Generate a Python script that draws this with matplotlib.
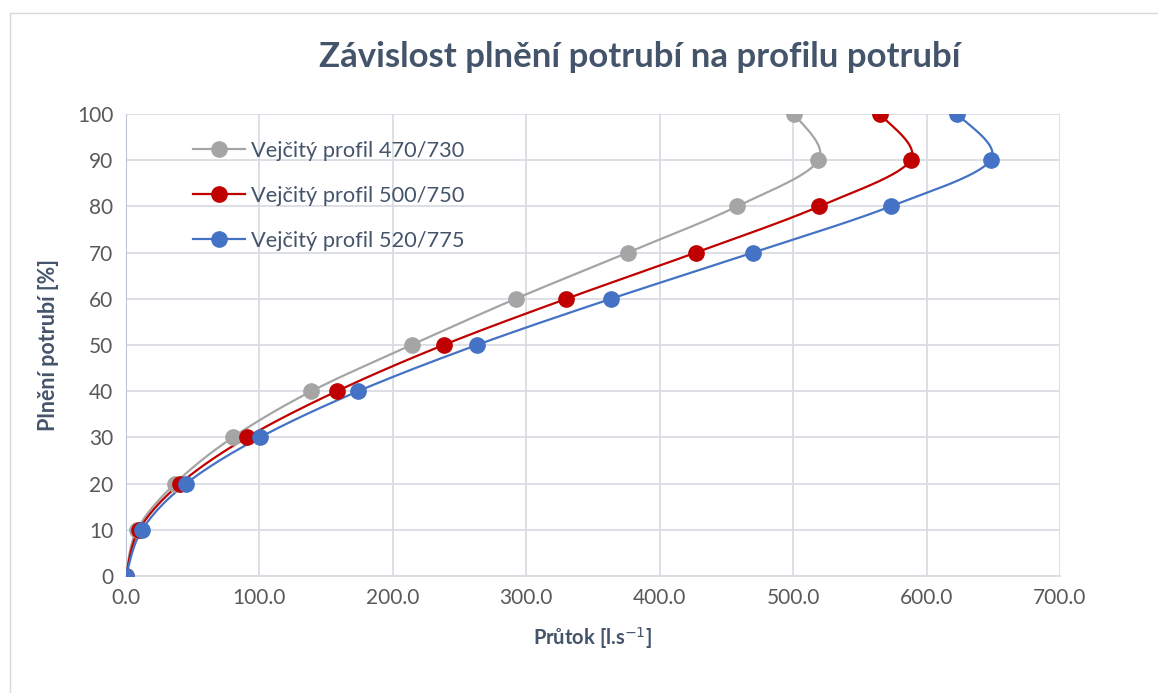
import numpy as np
import matplotlib

matplotlib.use("agg")
import matplotlib.pyplot as plt
from matplotlib.patches import Rectangle

# Values.
fill_pct = [0, 10, 20, 30, 40, 50, 60, 70, 80, 90, 100]
flow_470 = [0, 8.2, 36.7, 80.0, 139.0, 214.0, 292.0, 376.0, 458.0, 519.0, 500.8]
flow_500 = [0, 9.7, 40.5, 90.7, 158.0, 238.0, 330.0, 427.0, 519.5, 588.0, 565.0]
flow_520 = [0, 12.0, 45.0, 100.4, 174.0, 263.0, 363.5, 470.0, 573.0, 648.0, 623.0]

series_labels = ["Vejčitý profil 470/730", "Vejčitý profil 500/750", "Vejčitý profil 520/775"]
series_colors = ["#A5A5A5", "#C00000", "#4472C4"]

TEXT = "#44546A"
TICK = "#595959"
GRID = "#D9DCE3"

plt.rcParams["font.family"] = ["Lato", "DejaVu Sans"]


def smooth(x, y, n=30):
    """Excel-style smoothed line (Catmull-Rom through the points)."""
    p = np.column_stack([x, y]).astype(float)
    p = np.vstack([p[0], p, p[-1]])
    out = []
    t = np.linspace(0, 1, n)[:, None]
    for i in range(1, len(p) - 2):
        p0, p1, p2, p3 = p[i - 1], p[i], p[i + 1], p[i + 2]
        c1 = p1 + (p2 - p0) / 6
        c2 = p2 - (p3 - p1) / 6
        seg = ((1 - t) ** 3) * p1 + 3 * ((1 - t) ** 2) * t * c1 + 3 * (1 - t) * t ** 2 * c2 + t ** 3 * p2
        out.append(seg)
    s = np.vstack(out)
    return s[:, 0], s[:, 1]


fig = plt.figure(figsize=(11.58, 6.93), dpi=100)
fig.patches.append(Rectangle((10 / 1158, -0.01), 1.02, 1 - 13 / 693 + 0.01, transform=fig.transFigure,
                             fill=False, edgecolor="#D9D9D9", linewidth=1.0))
ax = fig.add_axes([126 / 1158, 117 / 693, 934 / 1158, 462 / 693])

for flows, lab, col in zip([flow_470, flow_500, flow_520], series_labels, series_colors):
    sx, sy = smooth(flows, fill_pct)
    ax.plot(sx, sy, color=col, linewidth=1.6, zorder=3)
    ax.plot(flows, fill_pct, linestyle="none", marker="o", markersize=11, color=col, zorder=4)
    ax.plot([], [], color=col, linewidth=1.6, marker="o", markersize=11, label=lab)

ax.set_xlim(0, 700)
ax.set_ylim(0, 100)
ax.set_xticks(np.arange(0, 701, 100))
ax.set_xticklabels([f"{v:.1f}" for v in np.arange(0, 701, 100)])
ax.set_yticks(np.arange(0, 101, 10))
ax.grid(True, color=GRID, linewidth=1.3)
ax.set_axisbelow(True)
for side in ["top", "right"]:
    ax.spines[side].set_visible(False)
ax.spines["left"].set_color("#BFC6D4")
ax.spines["bottom"].set_color(GRID)
ax.spines["bottom"].set_linewidth(1.3)
ax.tick_params(length=0, labelsize=15, labelcolor=TICK, pad=9)

ax.set_xlabel("Průtok [l.s$^{-1}$]", fontsize=14.5, fontweight="bold", color=TEXT, labelpad=12)
ax.set_ylabel("Plnění potrubí [%]", fontsize=15.5, fontweight="bold", color=TEXT, labelpad=13)
fig.text(640 / 1158, 1 - 57 / 693, "Závislost plnění potrubí na profilu potrubí", ha="center", va="center",
         fontsize=25, fontweight="bold", color=TEXT)

leg = ax.legend(loc="upper left", bbox_to_anchor=(0.0717, 0.942), frameon=False, fontsize=15.7,
                labelspacing=1.15, handlelength=2.4, handletextpad=0.25, borderpad=0, borderaxespad=0)
for t in leg.get_texts():
    t.set_color(TEXT)

fig.savefig("out.png", dpi=100, facecolor="white")
